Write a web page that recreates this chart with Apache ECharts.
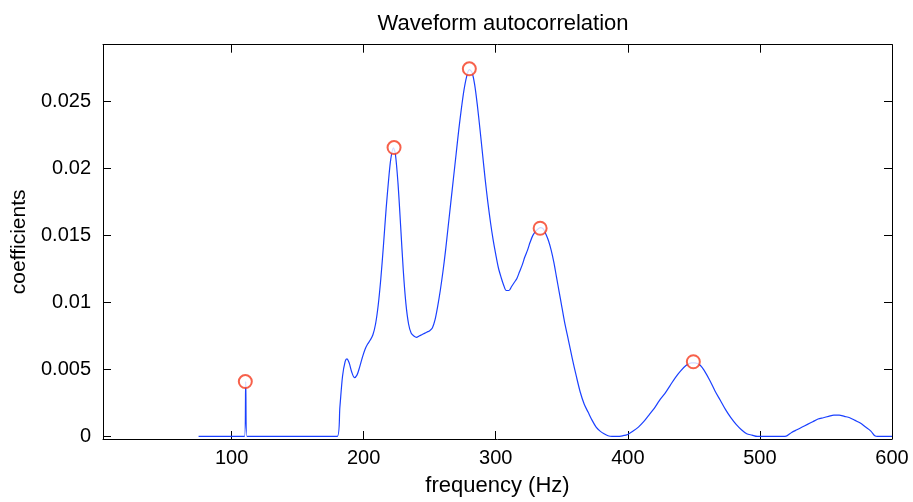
<!DOCTYPE html>
<html>
<head>
<meta charset="utf-8">
<script src="https://cdn.jsdelivr.net/npm/echarts@6/dist/echarts.min.js"></script>
<style>
html,body{margin:0;padding:0;background:#fff;}
#chart{width:913px;height:502px;}
</style>
</head>
<body>
<div id="chart"></div>
<script>
// ---- data ----
const titleText = 'Waveform autocorrelation';
const xName = 'frequency (Hz)';
const yName = 'coefficients';
const xTicks = [100, 200, 300, 400, 500, 600];
const yTicks = [0, 0.005, 0.01, 0.015, 0.02, 0.025];

const freq = [
  75, 109.8, 110.7, 111.6, 180,
  182, 184, 186, 187.3, 189, 191, 193, 195, 197, 199, 201, 203, 205, 207, 209,
  211, 213, 215, 217, 219, 220.5, 222.5, 224, 226, 228, 230, 232, 234, 236, 238,
  240, 242, 244, 246, 248, 250, 252, 254, 256, 258, 260, 262, 264, 266, 268,
  270, 272, 274, 276, 278, 280, 282, 284, 286, 288, 290, 292, 294, 296, 298,
  300, 302, 304, 306, 308, 310, 312, 314, 316, 318, 320, 322, 324, 326, 328,
  330, 332, 334, 336, 338, 340, 342, 344, 346, 348, 350, 352, 355, 358, 361,
  364, 367, 370, 373, 376, 379, 382, 385, 388, 392, 396, 400, 404, 408, 412,
  416, 420, 424, 428, 432, 436, 440, 444, 448, 451, 455, 458, 462, 466, 470,
  474, 478, 482, 486, 490, 494, 498, 519, 524, 528, 532, 536, 540, 544, 548,
  552, 556, 560, 564, 568, 572, 576, 580, 584, 587, 589, 600
];
const coef = [
  0, 0, 0.0041, 0, 0,
  0.0022, 0.0045, 0.0056, 0.0058, 0.0055, 0.0048, 0.0044, 0.0046, 0.0052, 0.0059, 0.0065, 0.0069, 0.0072, 0.0076, 0.0084,
  0.0098, 0.0118, 0.0143, 0.0170, 0.0193, 0.0207, 0.02155, 0.0211, 0.0189, 0.0157, 0.0124, 0.0099, 0.0084, 0.0077, 0.0075,
  0.0074, 0.0075, 0.0076, 0.0077, 0.0078, 0.0079, 0.0081, 0.0087, 0.0097, 0.0109, 0.0123, 0.0139, 0.0157, 0.0175, 0.0193,
  0.0211, 0.0229, 0.0245, 0.0259, 0.0269, 0.0274, 0.0272, 0.0263, 0.0248, 0.0230, 0.0211, 0.0192, 0.0175, 0.0160, 0.0147,
  0.0136, 0.0126, 0.0119, 0.0113, 0.0109, 0.0109, 0.0112, 0.0115, 0.0118, 0.0123, 0.0128, 0.0134, 0.0139, 0.0145, 0.0150,
  0.0153, 0.0155, 0.0156, 0.0155, 0.0151, 0.0146, 0.0139, 0.0130, 0.0119, 0.0108, 0.0097, 0.0086, 0.0072, 0.0058, 0.0045,
  0.0033, 0.0024, 0.0018, 0.0012, 0.0007, 0.0004, 0.0002, 0.00005, 0, 0, 0.00005, 0.00015, 0.0004, 0.0007, 0.0011,
  0.0016, 0.0021, 0.0027, 0.0032, 0.0038, 0.0044, 0.0049, 0.0053, 0.0055, 0.0055, 0.0053, 0.0049, 0.0042, 0.0034, 0.0027,
  0.0020, 0.0014, 0.0009, 0.0005, 0.0002, 0.0001, 0, 0, 0.0003, 0.0005, 0.0007, 0.0009, 0.0011, 0.0013, 0.0014,
  0.0015, 0.0016, 0.0016, 0.0015, 0.0014, 0.0012, 0.0010, 0.0007, 0.0004, 0.00005, 0, 0
];

const peakFreq = [110.4, 223, 280, 333.6, 449.6];
const peakCoef = [0.0041, 0.02158, 0.02746, 0.01555, 0.00558];

// ---- chart ----
const font = 'Liberation Sans, Arial, Helvetica, sans-serif';
const lineData = freq.map((f, i) => [f, coef[i]]);
const peakData = peakFreq.map((f, i) => [f, peakCoef[i]]);

const axisCommonX = {
  type: 'value', min: 2.65, max: 600,
  axisLine: {show: true, onZero: false, lineStyle: {color: '#000', width: 1}},
  axisTick: {show: true, inside: true, length: 8, customValues: xTicks, lineStyle: {color: '#000', width: 1}},
  splitLine: {show: false}
};
const axisCommonY = {
  type: 'value', min: -0.00019, max: 0.02926,
  axisLine: {show: true, onZero: false, lineStyle: {color: '#000', width: 1}},
  axisTick: {show: true, inside: true, length: 8, customValues: yTicks, lineStyle: {color: '#000', width: 1}},
  splitLine: {show: false}
};

const chart = echarts.init(document.getElementById('chart'), null, {renderer: 'canvas'});
chart.setOption({
  animation: false,
  backgroundColor: '#fff',
  title: {
    text: titleText, left: 498, textAlign: 'center', top: 8,
    textStyle: {fontFamily: font, fontSize: 22, fontWeight: 'normal', color: '#000'}
  },
  grid: {left: 103, right: 21, top: 44.7, bottom: 61.5, containLabel: false},
  xAxis: [
    Object.assign({}, axisCommonX, {
      position: 'bottom',
      name: xName, nameLocation: 'middle', nameGap: 36,
      nameTextStyle: {fontFamily: font, fontSize: 22, color: '#000'},
      axisLabel: {show: true, customValues: xTicks, margin: 9, fontFamily: font, fontSize: 20, color: '#000'}
    }),
    Object.assign({}, axisCommonX, {position: 'top', axisLabel: {show: false}})
  ],
  yAxis: [
    Object.assign({}, axisCommonY, {
      position: 'left',
      name: yName, nameLocation: 'middle', nameGap: 72, nameRotate: 90,
      nameTextStyle: {fontFamily: font, fontSize: 21, color: '#000'},
      axisLabel: {show: true, customValues: yTicks, margin: 12, fontFamily: font, fontSize: 20, color: '#000',
        formatter: v => String(+v.toFixed(4))}
    }),
    Object.assign({}, axisCommonY, {position: 'right', axisLabel: {show: false}})
  ],
  series: [
    {
      type: 'line', data: lineData, xAxisIndex: 0, yAxisIndex: 0,
      showSymbol: false, symbol: 'none', smooth: 0.3,
      lineStyle: {color: '#1a40ff', width: 1.2}
    },
    {
      type: 'scatter', data: peakData, xAxisIndex: 0, yAxisIndex: 0,
      symbol: 'emptyCircle', symbolSize: 13, z: 5,
      itemStyle: {color: '#f53a1e', borderColor: '#f53a1e', borderWidth: 1}
    }
  ]
});
</script>
</body>
</html>
